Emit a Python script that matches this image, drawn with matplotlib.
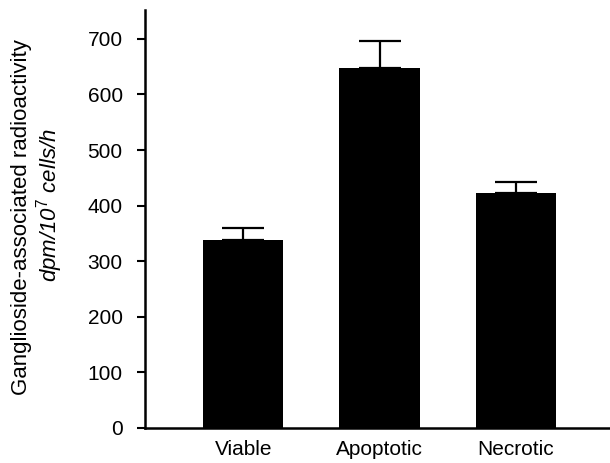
import matplotlib.pyplot as plt

# --- Data ---
categories = ["Viable", "Apoptotic", "Necrotic"]
values = [338, 648, 423]
errors = [22, 48, 20]
y_ticks = [0, 100, 200, 300, 400, 500, 600, 700]

plt.rcParams['font.family'] = ['Liberation Sans', 'DejaVu Sans']
plt.rcParams['mathtext.fontset'] = 'custom'
plt.rcParams['mathtext.rm'] = 'Liberation Sans'
plt.rcParams['mathtext.it'] = 'Liberation Sans:italic'
plt.rcParams['mathtext.default'] = 'it'

fig = plt.figure(figsize=(6.10, 4.63), dpi=100)
ax = fig.add_axes([0.2377, 0.0756, 0.7623, 0.9028])

x_pos = range(len(categories))
ax.bar(x_pos, values, width=0.59, color='black', zorder=2)
ax.errorbar(x_pos, values, yerr=[[0] * len(errors), errors], fmt='none',
            ecolor='black', elinewidth=1.6, capsize=15, capthick=1.6, zorder=3)

ax.set_xlim(-0.72, 2.69)
ax.set_ylim(0, 752)
ax.set_yticks(y_ticks)
ax.set_xticks(list(x_pos))
ax.set_xticklabels(categories, fontsize=15)
ax.tick_params(axis='x', length=0, pad=9)
ax.tick_params(axis='y', length=6, width=1.5, pad=10, labelsize=15)

for spine in ['top', 'right']:
    ax.spines[spine].set_visible(False)
for spine in ['left', 'bottom']:
    ax.spines[spine].set_linewidth(1.8)

# two-line y label, second line in italics
fig.text(0.036, 0.531, "Ganglioside-associated radioactivity", rotation=90,
         ha='center', va='center', fontsize=16)
fig.text(0.081, 0.557, r"dpm/10$^{7}$ cells/h", rotation=90,
         ha='center', va='center', fontsize=16, style='italic')

fig.savefig("out.png", dpi=100)
